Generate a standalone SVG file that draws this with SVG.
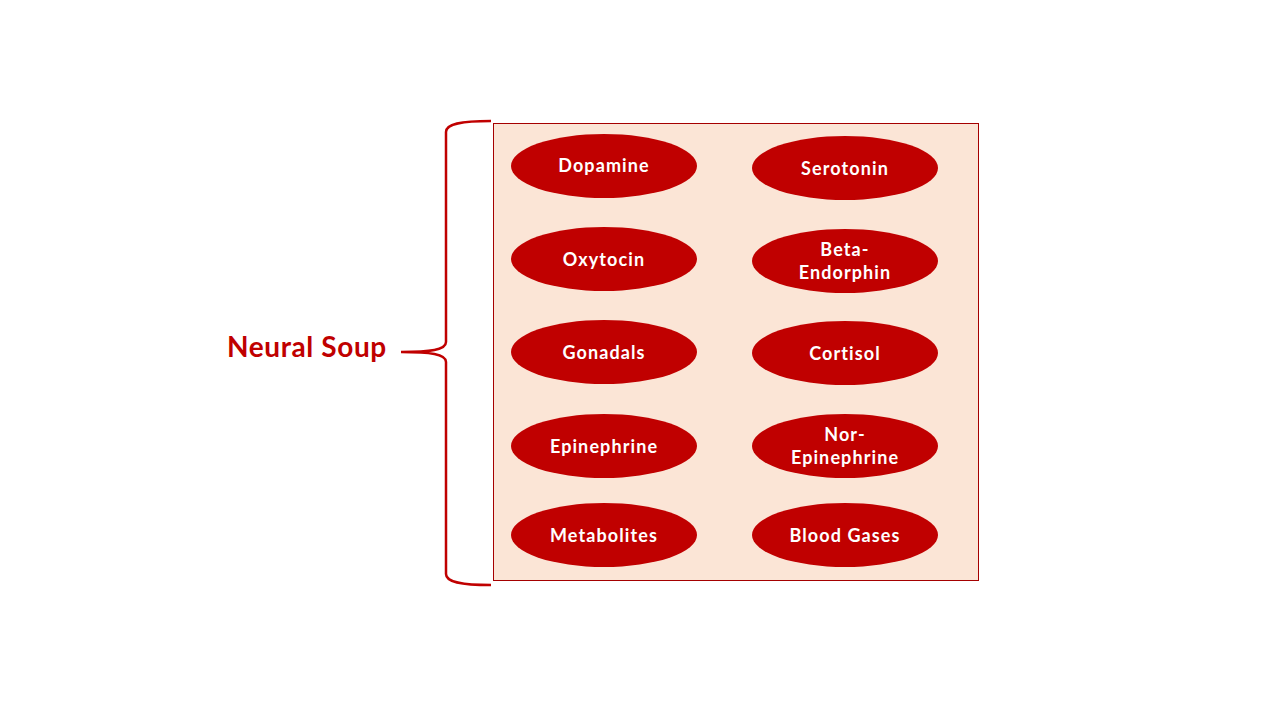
<svg xmlns="http://www.w3.org/2000/svg" width="1280" height="720" viewBox="0 0 1280 720">
<style>
.el{fill:#C00000;}
.t{font-family:Lato,"Open Sans","Liberation Sans",sans-serif;font-weight:bold;font-size:18px;letter-spacing:1.1px;fill:#FFFFFF;text-anchor:middle;}
.title{font-family:Lato,"Open Sans","Liberation Sans",sans-serif;font-weight:bold;font-size:28px;letter-spacing:0.6px;fill:#C00000;}
</style>
<rect width="1280" height="720" fill="#FFFFFF"/>
<g id="container">
<rect x="493.5" y="123.5" width="485" height="457" fill="#FBE5D6" stroke="#A50000" stroke-width="1"/>
</g>
<g id="connectors">
<path d="M491,121 C460,121 446,124 446,132 L446,342 C446,350 430,352 401,352 C430,352 446,354 446,362 L446,574 C446,582 460,585 491,585" fill="none" stroke="#C00000" stroke-width="2.5"/>
</g>
<g id="label"><text class="title" x="227" y="357">Neural Soup</text></g>
<g id="dopamine"><ellipse class="el" cx="604" cy="166" rx="93" ry="32"/><text class="t" x="604" y="172">Dopamine</text></g>
<g id="serotonin"><ellipse class="el" cx="845" cy="168" rx="93" ry="32"/><text class="t" x="845" y="175">Serotonin</text></g>
<g id="oxytocin"><ellipse class="el" cx="604" cy="259" rx="93" ry="32"/><text class="t" x="604" y="266">Oxytocin</text></g>
<g id="beta-endorphin"><ellipse class="el" cx="845" cy="261" rx="93" ry="32"/><text class="t" x="845" y="256">Beta-</text><text class="t" x="845" y="279">Endorphin</text></g>
<g id="gonadals"><ellipse class="el" cx="604" cy="352" rx="93" ry="32"/><text class="t" x="604" y="359">Gonadals</text></g>
<g id="cortisol"><ellipse class="el" cx="845" cy="353" rx="93" ry="32"/><text class="t" x="845" y="360">Cortisol</text></g>
<g id="epinephrine"><ellipse class="el" cx="604" cy="446" rx="93" ry="32"/><text class="t" x="604" y="453">Epinephrine</text></g>
<g id="nor-epinephrine"><ellipse class="el" cx="845" cy="446" rx="93" ry="32"/><text class="t" x="845" y="441">Nor-</text><text class="t" x="845" y="464">Epinephrine</text></g>
<g id="metabolites"><ellipse class="el" cx="604" cy="535" rx="93" ry="32"/><text class="t" x="604" y="542">Metabolites</text></g>
<g id="blood-gases"><ellipse class="el" cx="845" cy="535" rx="93" ry="32"/><text class="t" x="845" y="542">Blood Gases</text></g>
</svg>
